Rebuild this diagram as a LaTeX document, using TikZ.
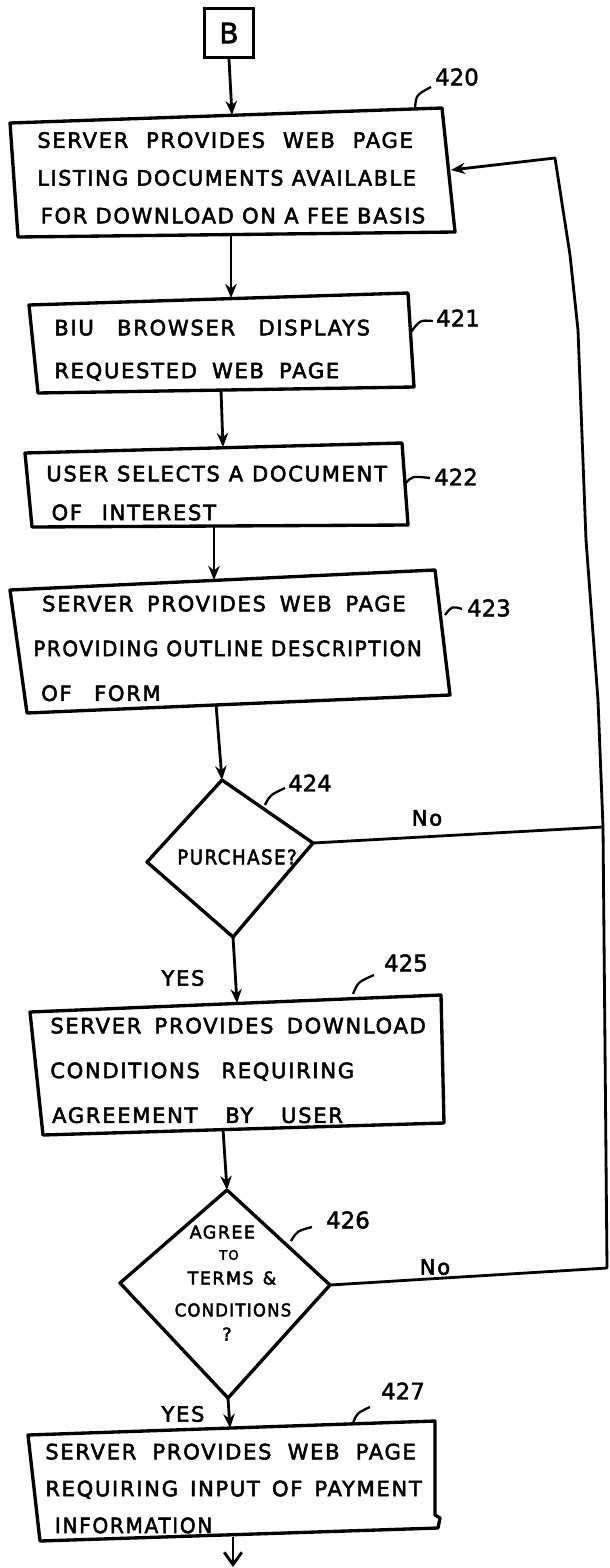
\documentclass[tikz,border=0pt]{standalone}
\usepackage{fontspec}
\usepackage{graphicx}
\usetikzlibrary{arrows.meta}
\newfontfamily\hand{DejaVu Sans}[LetterSpace=8,FakeBold=2.5]
\newfontfamily\handnum{DejaVu Sans}[FakeBold=2]
\newdimen\flw
\newcommand\fl[2]{\flw=\dimexpr 0.5669pt*#1\relax\setbox0\hbox{#2}%
  \ifdim\wd0>\flw\resizebox{\flw}{\height}{#2}\else\makebox[\flw][s]{#2}\fi}
\tikzset{
  box/.style={line width=1.9pt, line join=round},
  conn/.style={line width=1.6pt, -{Stealth[length=8pt,width=6.5pt]}},
  plain/.style={line width=1.6pt},
  lead/.style={line width=1.3pt},
  txt/.style={font=\hand\fontsize{12}{21.5}\selectfont, align=left, anchor=north west, inner sep=0pt},
  num/.style={font=\handnum\fontsize{13}{13}\selectfont, inner sep=0pt},
  yn/.style={font=\hand\fontsize{12}{12}\selectfont, inner sep=0pt},
  qtxt/.style={font=\hand\fontsize{10}{10}\selectfont, inner sep=0pt},
}
\begin{document}
\begin{tikzpicture}[x=0.02cm,y=-0.02cm]
\useasboundingbox (0,0) rectangle (609,1568);
% B connector
\node[draw, line width=1.7pt, minimum width=28pt, minimum height=28pt, inner sep=0pt,
  font=\handnum\fontsize{16}{16}\selectfont] (B) at (229,33) {B};
% ---- 420
\draw[box] (10,123) -- (442,108) -- (455,232) -- (18,237) -- cycle;
\node[txt, font=\hand\fontsize{12}{21.5}\selectfont] (t420) at (37,131.8) {\fl{377}{SERVER PROVIDES WEB PAGE}\\\fl{380}{LISTING DOCUMENTS AVAILABLE}\\\hspace{2pt}\fl{386}{FOR DOWNLOAD ON A FEE BASIS}};
\coordinate (in420) at (232,115);
\coordinate (out420) at (231,235);
\coordinate (r420) at (451,170);
\node[num] (n420) at (457,77) {420};
\draw[lead] (415,109) .. controls (416,95) .. (431,87);
% ---- 421
\draw[box] (29,305) -- (408,293) -- (414,387) -- (38,393) -- cycle;
\node[txt, font=\hand\fontsize{12}{24.4}\selectfont] (t421) at (54,319.3) {\fl{317}{BIU BROWSER DISPLAYS}\\\fl{286}{REQUESTED WEB PAGE}};
\coordinate (in421) at (231,298);
\coordinate (out421) at (221,390);
\node[num] (n421) at (458,318) {421};
\draw[lead] (411,332) .. controls (420,320) .. (433,321);
% ---- 422
\draw[box] (25,453) -- (402,443) -- (408,525) -- (32,527) -- cycle;
\node[txt, font=\hand\fontsize{12}{22.1}\selectfont] (t422) at (46,465.3) {\fl{342}{USER SELECTS A DOCUMENT}\\\hspace{3pt}\fl{165}{OF INTEREST}};
\coordinate (in422) at (223,447);
\coordinate (out422) at (214,527);
\node[num] (n422) at (456,477) {422};
\draw[lead] (405,484) .. controls (412,476) .. (430,478);
% ---- 423
\draw[box] (10,590) -- (435,570) -- (450,695) -- (27,713) -- cycle;
\node[txt, font=\hand\fontsize{12}{25.5}\selectfont] (t423) at (33,595.3) {\hspace{5pt}\fl{365}{SERVER PROVIDES WEB PAGE}\\\fl{390}{PROVIDING OUTLINE DESCRIPTION}\\\hspace{4.5pt}\fl{120}{OF FORM}};
\coordinate (in423) at (214,580);
\coordinate (out423) at (216,704);
\node[num] (n423) at (489,608) {423};
\draw[lead] (445,615) .. controls (452,606) .. (462,609);
% ---- 424 decision
\coordinate (d424t) at (222,780);
\coordinate (d424r) at (313,843);
\coordinate (d424b) at (233,937);
\coordinate (d424l) at (147,862);
\draw[box] (d424t) -- (d424r) -- (d424b) -- (d424l) -- cycle;
\node[qtxt, font=\hand\fontsize{11.5}{11.5}\selectfont] (q424) at (237,857) {\fl{120}{PURCHASE?}};
\node[num] (n424) at (310,783) {424};
\draw[lead] (265,805) .. controls (270,795) .. (285,788);
% ---- 425
\draw[box] (30,1012) -- (441,995) -- (444,1123) -- (43,1135) -- cycle;
\node[txt, font=\hand\fontsize{12}{25.5}\selectfont] (t425) at (50,1017.3) {\fl{377}{SERVER PROVIDES DOWNLOAD}\\\fl{305}{CONDITIONS REQUIRING}\\\hspace{1pt}\fl{292}{AGREEMENT BY USER}};
\coordinate (in425) at (237,1003);
\coordinate (out425) at (223,1129);
\node[num] (n425) at (406,963) {425};
\draw[lead] (353,994) .. controls (358,982) .. (374,975);
% ---- 426 decision
\coordinate (d426t) at (227,1190);
\coordinate (d426r) at (330,1285);
\coordinate (d426b) at (228,1398);
\coordinate (d426l) at (120,1283);
\draw[box] (d426t) -- (d426r) -- (d426b) -- (d426l) -- cycle;
\node[qtxt] (q426a) at (228,1232) {\fl{77}{AGREE}};
\node[qtxt, font=\hand\fontsize{7.5}{7.5}\selectfont] (q426b) at (229,1255) {TO};
\node[qtxt] (q426c) at (232,1278) {\fl{89}{TERMS \&}};
\node[qtxt] (q426d) at (233,1310) {\fl{117}{CONDITIONS}};
\node[qtxt] (q426e) at (227,1334) {?};
\node[num] (n426) at (348,1220) {426};
\draw[lead] (291,1241) .. controls (297,1231) .. (312,1227);
% ---- 427
\draw[box] (28,1435) -- (435,1421) -- (435,1515) -- (440,1518) -- (438,1528) -- (40,1541) -- cycle;
\node[txt, font=\hand\fontsize{12}{21}\selectfont] (t427) at (45,1443.3) {\fl{372}{SERVER PROVIDES WEB PAGE}\\\fl{378}{REQUIRING INPUT OF PAYMENT}\\\hspace{5.5pt}\fl{158}{INFORMATION}};
\coordinate (in427) at (230,1428);
\coordinate (out427) at (233,1537);
\coordinate (end427) at (233,1567);
\node[num] (n427) at (403,1391) {427};
\draw[lead] (353,1423) .. controls (357,1413) .. (370,1407);
% ---- flow connectors
\draw[conn] (B.south) -- (in420);
\draw[conn] (out420) -- (in421);
\draw[conn] (out421) -- (in422);
\draw[conn] (out422) -- (in423);
\draw[conn] (out423) -- (d424t);
\draw[conn] (d424b) -- (in425);
\draw[conn] (out425) -- (d426t);
\draw[conn] (d426b) -- (in427);
\draw[line width=1.6pt, -{Straight Barb[length=7pt,width=10pt]}] (out427) -- (end427);
% ---- loop back
\coordinate (lp1) at (607,1268);
\coordinate (lp2) at (603,827);
\coordinate (lp3) at (598,700);
\coordinate (lp4) at (586,540);
\coordinate (lp5) at (578,330);
\coordinate (lp6) at (570,255);
\coordinate (lp7) at (555,158);
\draw[conn, line join=round] (d426r) -- (lp1) -- (lp2) -- (lp3) -- (lp4) -- (lp5) -- (lp6) -- (lp7) -- (r420);
\draw[plain] (d424r) -- (lp2);
% ---- branch labels
\node[yn] (no424) at (427,818) {No};
\node[yn] (no426) at (435,1267) {No};
\node[yn] (yes424) at (183,978) {YES};
\node[yn] (yes426) at (183,1414) {YES};
\end{tikzpicture}
\end{document}
